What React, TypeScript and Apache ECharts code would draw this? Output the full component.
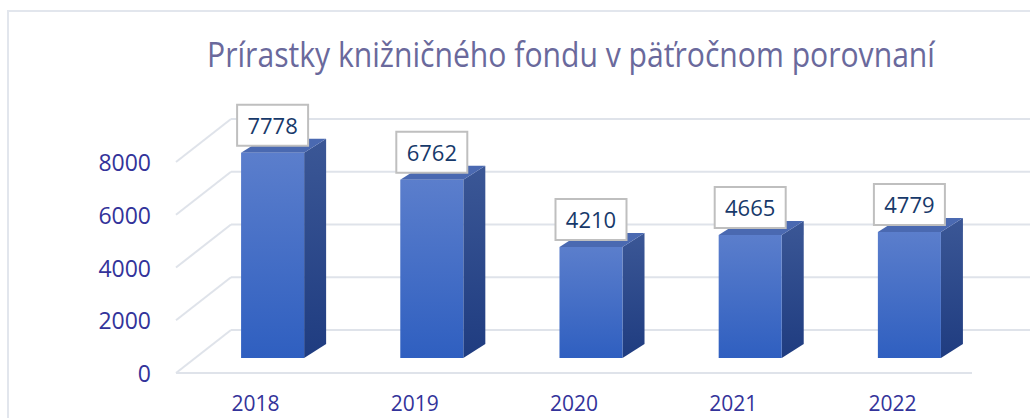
import React, { useEffect, useRef } from "react";
import * as echarts from "echarts";

const TITLE = "Prírastky knižničného fondu v päťročnom porovnaní";
const categories = ["2018", "2019", "2020", "2021", "2022"];
const values = [7778, 6762, 4210, 4665, 4779];
const yTicks = [0, 2000, 4000, 6000, 8000];

function measure(text: string, font: string): number {
  const c = document.createElement("canvas");
  const ctx = c.getContext("2d");
  if (!ctx) return 0;
  ctx.font = font;
  return ctx.measureText(text).width;
}

export default function App() {
  const ref = useRef<HTMLDivElement>(null);
  useEffect(() => {
    if (!ref.current) return;
    const chart = echarts.init(ref.current, undefined, { renderer: "svg" });
    const titleSize = 35;
    const w = measure(TITLE, `${titleSize}px 'Open Sans'`);
    const titleScale = w > 0 ? 728 / w : 1;

    const FLOOR_DX = 55;
    const FLOOR_DY = -43;
    const BAR_DX = 17;
    const BAR_DY = -15;
    const DEPTH_DX = 22;
    const DEPTH_DY = -14;

    const option: any = {
      animation: false,
      backgroundColor: "#ffffff",
      grid: { left: 176, right: 58, top: 162, bottom: 45 },
      xAxis: {
        type: "category",
        data: categories,
        axisLine: { show: false },
        axisTick: { show: false },
        axisLabel: {
          color: "#33339a",
          fontFamily: "Open Sans",
          fontSize: 21,
          lineHeight: 14,
          margin: 23,
        },
      },
      yAxis: {
        type: "value",
        min: 0,
        max: 8000,
        interval: 2000,
        axisLine: { show: false },
        axisTick: { show: false },
        splitLine: { show: false },
        axisLabel: {
          color: "#33339a",
          fontFamily: "Open Sans",
          fontSize: 23,
          margin: 25,
          formatter: (v: number) => String(v),
        },
      },
      graphic: [
        {
          type: "rect",
          shape: { x: 8, y: 11, width: 1200, height: 600 },
          style: { fill: "none", stroke: "#e2e6ed", lineWidth: 2 },
          silent: true,
          z: -10,
        },
        {
          type: "text",
          x: 571,
          y: 54,
          scaleX: titleScale,
          style: {
            text: TITLE,
            fill: "#6a699c",
            font: `${titleSize}px 'Open Sans'`,
            align: "center",
            verticalAlign: "middle",
          },
        },
      ],
      series: [
        {
          type: "custom",
          z: 1,
          silent: true,
          data: yTicks.map((v) => [0, v]),
          renderItem: (params: any, api: any) => {
            const v = api.value(1);
            const cs = params.coordSys;
            const y = api.coord([0, v])[1];
            const x0 = cs.x;
            const style = { stroke: "#dfe3ea", lineWidth: 2 };
            const children: any[] = [
              {
                type: "line",
                shape: { x1: x0, y1: y, x2: x0 + FLOOR_DX, y2: y + FLOOR_DY },
                style,
              },
              {
                type: "line",
                shape: { x1: x0 + FLOOR_DX, y1: y + FLOOR_DY, x2: 1040, y2: y + FLOOR_DY },
                style,
              },
            ];
            if (v === 0) {
              children.push({
                type: "line",
                shape: { x1: x0, y1: y, x2: cs.x + cs.width, y2: y },
                style,
              });
            }
            return { type: "group", children };
          },
        },
        {
          type: "custom",
          z: 2,
          silent: true,
          data: values.map((v, i) => [i, v]),
          renderItem: (params: any, api: any) => {
            const cat = api.value(0);
            const val = api.value(1);
            const p0 = api.coord([cat, 0]);
            const p1 = api.coord([cat, val]);
            const bw = api.size([1, 0])[0] * 0.396;
            const x0 = p0[0] + BAR_DX - bw / 2;
            const yb = p0[1] + BAR_DY;
            const yt = p1[1] + BAR_DY;
            const cx = x0 + bw / 2;
            const boxW = 71;
            const boxH = 41;
            const boxBottom = yt - 7;
            return {
              type: "group",
              children: [
                {
                  type: "polygon",
                  shape: {
                    points: [
                      [x0 + bw, yt],
                      [x0 + bw + DEPTH_DX, yt + DEPTH_DY],
                      [x0 + bw + DEPTH_DX, yb + DEPTH_DY],
                      [x0 + bw, yb],
                    ],
                  },
                  style: {
                    fill: new echarts.graphic.LinearGradient(0, 0, 0, 1, [
                      { offset: 0, color: "#3b5796" },
                      { offset: 1, color: "#1f3c80" },
                    ]),
                  },
                },
                {
                  type: "polygon",
                  shape: {
                    points: [
                      [x0, yt],
                      [x0 + DEPTH_DX, yt + DEPTH_DY],
                      [x0 + bw + DEPTH_DX, yt + DEPTH_DY],
                      [x0 + bw, yt],
                    ],
                  },
                  style: { fill: "#4a69b1" },
                },
                {
                  type: "rect",
                  shape: { x: x0, y: yt, width: bw, height: yb - yt },
                  style: {
                    fill: new echarts.graphic.LinearGradient(0, 0, 0, 1, [
                      { offset: 0, color: "#5b7ecc" },
                      { offset: 1, color: "#2f5fc0" },
                    ]),
                  },
                },
                {
                  type: "rect",
                  shape: { x: cx - boxW / 2, y: boxBottom - boxH, width: boxW, height: boxH },
                  style: { fill: "#ffffff", stroke: "#bfbfbf", lineWidth: 2 },
                },
                {
                  type: "text",
                  x: cx,
                  y: boxBottom - boxH / 2,
                  style: {
                    text: String(val),
                    fill: "#17396a",
                    font: "22px 'Open Sans'",
                    align: "center",
                    verticalAlign: "middle",
                  },
                },
              ],
            };
          },
        },
      ],
    };
    chart.setOption(option);
    return () => chart.dispose();
  }, []);
  return (
    <div
      ref={ref}
      style={{ position: "fixed", left: 0, top: 0, width: 1030, height: 418 }}
    />
  );
}
